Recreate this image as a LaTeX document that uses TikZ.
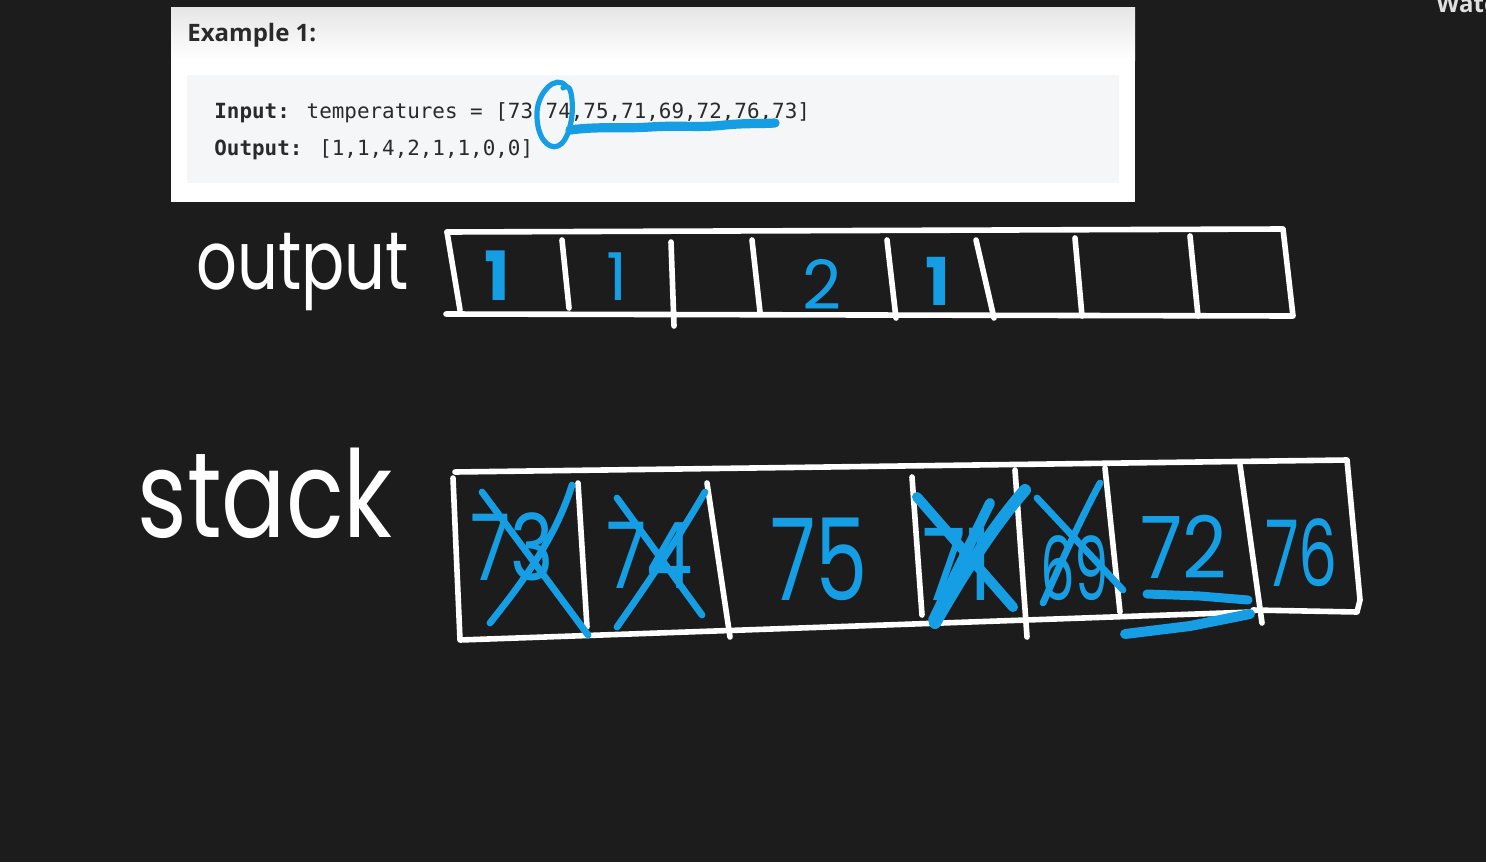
\documentclass[tikz,border=0pt]{standalone}
\usepackage{fontspec}
\setmainfont{Open Sans}
\newfontfamily\codefont{DejaVu Sans Mono}
\newfontfamily\handfont{Poppins}
\definecolor{bgdark}{HTML}{1C1C1C}
\definecolor{ink}{HTML}{169EE4}
\definecolor{codebg}{HTML}{F5F6F8}
\definecolor{cardtop}{HTML}{E6E6E6}
\definecolor{txt}{HTML}{2A2A2A}
\tikzset{
  hand/.style={draw=white, line width=2.8pt, line cap=round, line join=round},
  blue stroke/.style={draw=ink, line width=3.4pt, line cap=round, line join=round},
  blue thick/.style={draw=ink, line width=5pt, line cap=round, line join=round},
  handtext/.style={inner sep=0pt, anchor=base west, font=\handfont},
  bluenum/.style={handtext, text=ink},
  codetext/.style={inner sep=0pt, anchor=base west, text=txt, font=\codefont\fontsize{10.45}{12}\selectfont},
}
\begin{document}
\begin{tikzpicture}[x=0.5pt, y=-0.5pt]
\useasboundingbox (0,0) rectangle (1486,862);
\clip (0,0) rectangle (1486,862);
\fill[bgdark] (0,0) rectangle (1486,862);
% card
\fill[white] (171,7) rectangle (1135,202);
\shade[top color=cardtop, bottom color=white] (171,7) rectangle (1135,60);
\fill[codebg] (187,75) rectangle (1119,183);
\node[inner sep=0pt, anchor=base west, text=txt, font=\bfseries\fontsize{12}{14}\selectfont] (ex) at (187,41) {Example 1:};
\node[codetext] (inp) at (214,118) {\textbf{Input:} temperatures = [73 74,75,71,69,72,76,73]};
\node[codetext] (outp) at (214,155) {\textbf{Output:} [1,1,4,2,1,1,0,0]};
\node[inner sep=0pt, anchor=base west, text=white!88!black, font=\bfseries\fontsize{12}{14}\selectfont] (watc) at (1436,12) {Watc};
% blue loop and underline on input
\draw[blue stroke, line width=2.6pt] (566,86) .. controls (556,74) and (538,92) .. (537,112)
  .. controls (536,137) and (548,150) .. (558,146)
  .. controls (568,142) and (574,118) .. (572,100)
  .. controls (571,88) and (568,84) .. (563,88);
\draw[blue thick, line width=4.6pt] (570,130) .. controls (600,126) and (620,129) .. (650,127) .. controls (680,125) and (700,128) .. (725,125) .. controls (745,123) and (760,124) .. (775,123);
% handwritten labels
\node[handtext, text=white, xscale=0.78, font=\handfont\fontsize{41}{41}\selectfont] (lout) at (196,289) {output};
\node[handtext, text=white, xscale=0.85, yscale=1.08, font=\handfont\fontsize{56}{56}\selectfont] (lstack) at (137,537) {stack};
% output array
\draw[hand] (447,232) -- (1283,229) -- (1293,316) -- (446,314);
\draw[hand] (447,232) -- (460,310);
\draw[hand] (562,240) -- (569,308);
\draw[hand] (671,242) -- (674,326);
\draw[hand] (752,240) -- (760,312);
\draw[hand] (887,240) -- (896,318);
\draw[hand] (976,240) -- (994,318);
\draw[hand] (1075,238) -- (1082,316);
\draw[hand] (1190,236) -- (1198,316);
\node[bluenum, font=\handfont\bfseries\fontsize{34}{34}\selectfont] (o1) at (484,300) {1};
\node[bluenum, font=\handfont\fontsize{33}{33}\selectfont] (o2) at (606,300) {1};
\node[bluenum, font=\handfont\fontsize{34}{34}\selectfont] (o3) at (802,309) {2};
\node[bluenum, font=\handfont\bfseries\fontsize{33}{33}\selectfont] (o4) at (925,305) {1};
% stack array
\draw[hand] (455,472) -- (1347,460) -- (1360,600) -- (1357,612) -- (1253,610);
\draw[hand] (453,478) -- (460,640) -- (1253,612);
\draw[hand] (578,483) -- (587,627);
\draw[hand] (707,483) -- (730,637);
\draw[hand] (912,477) -- (922,615);
\draw[hand] (1015,470) -- (1027,637);
\draw[hand] (1105,468) -- (1120,612);
\draw[hand] (1240,465) -- (1262,623);
% stack values
\node[bluenum, xscale=0.8, font=\handfont\fontsize{46}{46}\selectfont] (s1) at (470,580) {73};
\node[bluenum, xscale=0.8, font=\handfont\fontsize{46}{46}\selectfont] (s2) at (606,588) {74};
\node[bluenum, xscale=0.73, font=\handfont\fontsize{57}{57}\selectfont] (s3) at (770,600) {75};
\node[bluenum, xscale=0.8, font=\handfont\fontsize{50}{50}\selectfont] (s4) at (922,600) {71};
\node[bluenum, xscale=0.62, font=\handfont\fontsize{44}{44}\selectfont] (s5) at (1040,600) {69};
\node[bluenum, xscale=0.9, font=\handfont\fontsize{43}{43}\selectfont] (s6) at (1140,578) {72};
\node[bluenum, xscale=0.67, font=\handfont\fontsize{46}{46}\selectfont] (s7) at (1265,586) {76};
% crossings
\draw[blue stroke] (482,492) -- (588,635);
\draw[blue stroke] (572,485) .. controls (555,540) and (520,585) .. (490,623);
\draw[blue stroke] (617,498) -- (702,615);
\draw[blue stroke] (705,492) .. controls (680,535) and (650,580) .. (617,627);
\draw[blue thick] (917,497) -- (1013,607);
\draw[blue thick, line width=6pt] (1025,490) .. controls (990,530) and (960,580) .. (935,623);
\draw[blue thick] (990,503) -- (933,620);
\draw[blue stroke] (1037,498) -- (1123,590);
\draw[blue stroke] (1100,483) .. controls (1080,520) and (1060,565) .. (1043,603);
% underlines under 72
\draw[blue thick, line width=4.5pt] (1147,594) -- (1200,596) -- (1248,600);
\draw[blue thick, line width=5pt] (1125,634) -- (1190,626) -- (1250,614);
\end{tikzpicture}
\end{document}
